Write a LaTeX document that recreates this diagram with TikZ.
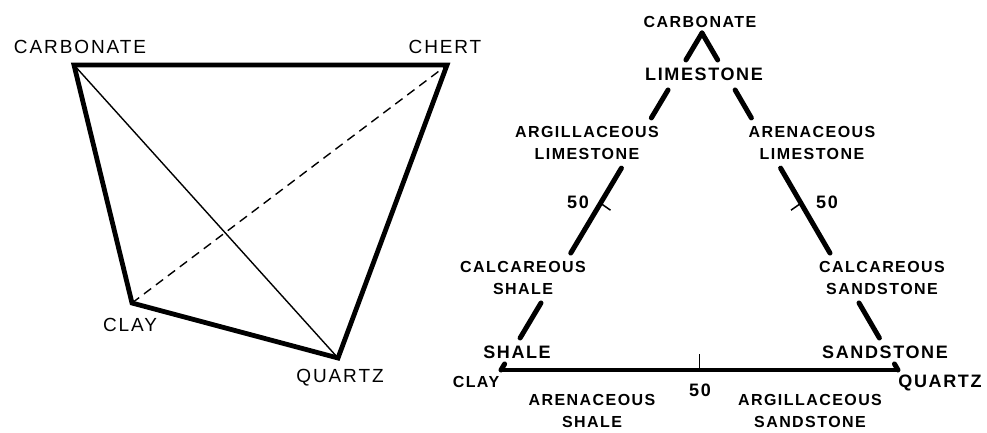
\documentclass[tikz,border=0pt]{standalone}
\usepackage{fontspec}
\newfontfamily\leftfnt[LetterSpace=10]{Liberation Sans}
\newfontfamily\rightfnt[LetterSpace=9]{Liberation Sans}
\usetikzlibrary{calc}
\begin{document}
\begin{tikzpicture}[x=1pt,y=-1pt,
  lbl/.style={inner sep=0pt,font=\leftfnt\fontsize{19}{22}\selectfont},
  rlbl/.style={inner sep=0pt,align=center,font=\rightfnt\bfseries\fontsize{16}{22}\selectfont},
  rbig/.style={inner sep=0pt,align=center,font=\rightfnt\bfseries\fontsize{18}{22}\selectfont},
  thickedge/.style={line width=4.8pt,line join=miter},
  thinedge/.style={line width=1.4pt},
  hidden/.style={line width=1.4pt,dash pattern=on 9pt off 6pt},
  side/.style={line width=5pt,line cap=round},
  tick/.style={line width=1.5pt}]
\useasboundingbox (0,0) rectangle (987,432);

% ---- left: tetrahedron ----
\coordinate (carb) at (74,65);
\coordinate (chert) at (447,65);
\coordinate (clay) at (132,303);
\coordinate (quartz) at (338,358);
\node[lbl] (lcarb) at (80,47) {CARBONATE};
\node[lbl] (lchert) at (445,47) {CHERT};
\node[lbl] (lclay) at (130,325) {CLAY};
\node[lbl] (lquartz) at (340,378) {QUARTZ};
\draw[hidden] (clay) -- (chert);
\draw[thinedge] (carb) -- (quartz);
\draw[thickedge] (carb) -- (chert) -- (quartz) -- (clay) -- cycle;

% ---- right: triangle ----
\coordinate (A) at (702,33);
\coordinate (B) at (501,370);
\coordinate (C) at (898,370);

\node[rlbl] (tcarb) at (700,22) {CARBONATE};
\node[rbig] (lime) at (704,74) {LIMESTONE};
\node[rlbl] (arglime) at (587,143) {ARGILLACEOUS\\LIMESTONE};
\node[rlbl] (arelime) at (812,143) {ARENACEOUS\\LIMESTONE};
\node[rbig] (fiftyL) at (578,202) {50};
\node[rbig] (fiftyR) at (827,202) {50};
\node[rlbl] (calcsh) at (523,278) {CALCAREOUS\\SHALE};
\node[rlbl] (calcss) at (882,278) {CALCAREOUS\\SANDSTONE};
\node[rbig] (shale) at (517,352) {SHALE};
\node[rbig] (sand) at (885,352) {SANDSTONE};
\node[rlbl] (rclay) at (476,382) {CLAY};
\node[rbig] (rquartz) at (940,383) {QUARTZ};
\node[rbig] (fiftyB) at (700,390) {50};
\node[rlbl] (aresh) at (592,411) {ARENACEOUS\\SHALE};
\node[rlbl] (argss) at (810,411) {ARGILLACEOUS\\SANDSTONE};

% side segments, broken by the labels
\foreach \a/\b in {0/0.08,0.169/0.252,0.401/0.653,0.801/0.905,0.982/1}{
  \draw[side] ($(A)!\a!(B)$) -- ($(A)!\b!(B)$);
  \draw[side] ($(A)!\a!(C)$) -- ($(A)!\b!(C)$);
}
% base
\draw[line width=4.5pt] (B) -- (C);
% 50 % ticks
\coordinate (mL) at ($(A)!0.505!(B)$);
\coordinate (mR) at ($(A)!0.505!(C)$);
\coordinate (mB) at ($(B)!0.5!(C)$);
\draw[tick] (mL) -- ++(10,7);
\draw[tick] (mR) -- ++(-10,7);
\draw[tick] (mB) -- ++(0,-16);
\end{tikzpicture}
\end{document}
